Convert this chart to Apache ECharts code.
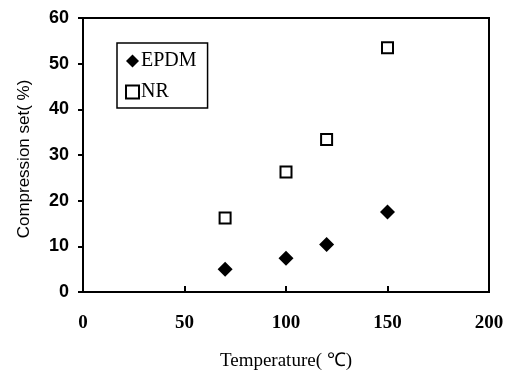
<!DOCTYPE html>
<html>
<head>
<meta charset="utf-8">
<script src="https://cdn.jsdelivr.net/npm/echarts@6/dist/echarts.min.js"></script>
<style>
  html, body { margin: 0; padding: 0; background: #fff; }
  #chart { width: 518px; height: 372px; }
</style>
</head>
<body>
<div id="chart"></div>
<script>
  // temperatures (℃) and compression set (%)
  let temps = [70, 100, 120, 150]
  let epdmSet = [5.0, 7.4, 10.4, 17.5]
  let nrSet = [16.2, 26.3, 33.4, 53.5]
  let seriesNames = ['EPDM', 'NR']

  let serif = 'Liberation Serif'
  let sans = 'Liberation Sans'

  function pairs(xs, ys) {
    return xs.map(function (x, i) { return [x, ys[i]] })
  }

  let option = {
    backgroundColor: '#ffffff',
    animation: false,
    grid: {
      left: 83, top: 18, right: 29, bottom: 80,
      outerBoundsMode: 'none',
      show: true,
      borderColor: '#000',
      borderWidth: 2
    },
    legend: {
      left: 117, top: 43,
      orient: 'vertical',
      itemGap: 11,
      padding: [8, 11, 6, 8],
      borderColor: '#000',
      borderWidth: 1.5,
      itemWidth: 13,
      itemHeight: 13,
      textStyle: { fontFamily: serif, fontSize: 20, color: '#000', padding: [0, 0, 0, -3] },
      data: [
        { name: seriesNames[0], icon: 'diamond' },
        { name: seriesNames[1], icon: 'rect', itemStyle: { color: '#fff', borderColor: '#000', borderWidth: 2 } }
      ]
    },
    xAxis: {
      type: 'value',
      min: 0, max: 200, interval: 50,
      name: 'Temperature( ℃)',
      nameLocation: 'middle',
      nameGap: 60,
      nameTextStyle: { fontFamily: serif, fontSize: 19, color: '#000' },
      splitLine: { show: false },
      axisLine: { lineStyle: { color: '#000', width: 2 } },
      axisTick: { inside: true, length: 6, lineStyle: { color: '#000', width: 2 } },
      axisLabel: { fontFamily: serif, fontSize: 19, fontWeight: 'bold', color: '#000', margin: 22 }
    },
    yAxis: {
      type: 'value',
      min: 0, max: 60, interval: 10,
      name: 'Compression set( %)',
      nameLocation: 'middle',
      nameGap: 50,
      nameTextStyle: { fontFamily: sans, fontSize: 17, color: '#000', padding: [0, 0, 0, -8] },
      splitLine: { show: false },
      axisLine: { lineStyle: { color: '#000', width: 2 } },
      axisTick: { length: 5, lineStyle: { color: '#000', width: 2 } },
      axisLabel: { fontFamily: sans, fontSize: 18, fontWeight: 'bold', color: '#000', margin: 14 }
    },
    series: [
      {
        name: seriesNames[0],
        type: 'scatter',
        symbol: 'diamond',
        symbolSize: 15,
        itemStyle: { color: '#000', opacity: 1 },
        data: pairs(temps, epdmSet)
      },
      {
        name: seriesNames[1],
        type: 'scatter',
        symbol: 'rect',
        symbolSize: 11,
        itemStyle: { color: '#fff', borderColor: '#000', borderWidth: 2, opacity: 1 },
        data: pairs(temps, nrSet)
      }
    ]
  }

  let chart = echarts.init(document.getElementById('chart'))
  chart.setOption(option)
</script>
</body>
</html>
